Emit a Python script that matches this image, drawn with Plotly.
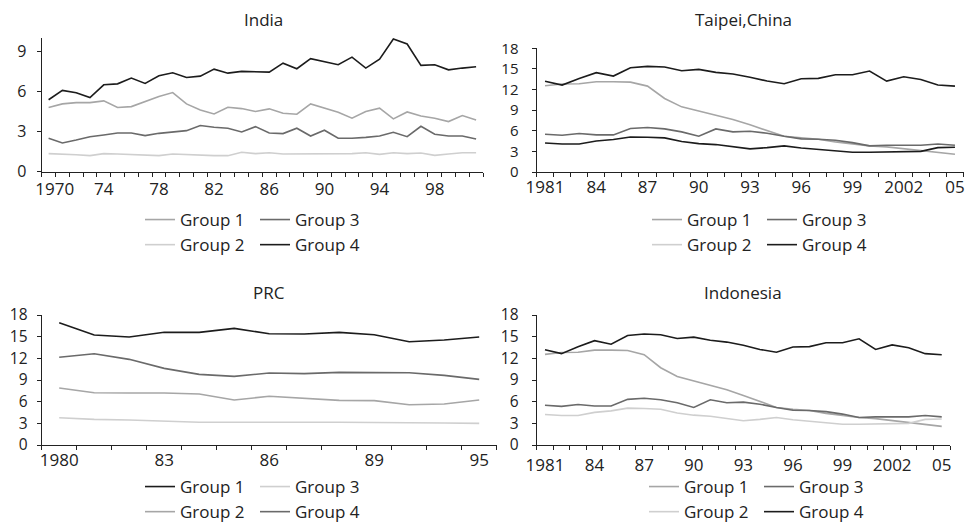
import plotly.graph_objects as go

W, H = 967, 523

# ---------------- data ----------------
india_years = list(range(1970, 2002))
india_g1 = [4.8, 5.07, 5.17, 5.17, 5.3, 4.8, 4.87, 5.25, 5.62, 5.92, 5.07, 4.62, 4.32, 4.82, 4.72, 4.5,
            4.7, 4.37, 4.3, 5.07, 4.75, 4.45, 4.0, 4.5, 4.75, 3.95, 4.47, 4.17, 4.0, 3.75, 4.2, 3.87]
india_g2 = [1.35, 1.32, 1.27, 1.2, 1.35, 1.32, 1.27, 1.2, 1.2, 1.32, 1.27, 1.25, 1.2, 1.2, 1.45, 1.35,
            1.42, 1.32, 1.32, 1.3, 1.35, 1.35, 1.35, 1.42, 1.3, 1.42, 1.35, 1.4, 1.22, 1.32, 1.42, 1.42]
india_g3 = [2.5, 2.15, 2.37, 2.62, 2.75, 2.9, 2.9, 2.7, 2.87, 2.97, 3.07, 3.45, 3.32, 3.25, 2.97, 3.37,
            2.9, 2.85, 3.25, 2.67, 3.1, 2.5, 2.5, 2.57, 2.67, 2.95, 2.62, 3.4, 2.8, 2.67, 2.67, 2.45]
india_g4 = [5.38, 6.08, 5.9, 5.55, 6.5, 6.57, 7.0, 6.6, 7.17, 7.4, 7.05, 7.15, 7.67, 7.37, 7.5, 7.47,
            7.45, 8.12, 7.7, 8.45, 8.2, 8.0, 8.57, 7.75, 8.42, 9.92, 9.55, 7.95, 8.0, 7.62, 7.75, 7.85]
india_ticks = [1970, 1974, 1978, 1982, 1986, 1990, 1994, 1998]
india_ticktext = ["1970", "74", "78", "82", "86", "90", "94", "98"]

taipei_years = list(range(1981, 2006))
taipei_g1 = [12.55, 12.8, 12.84, 13.13, 13.13, 13.08, 12.5, 10.7, 9.48, 8.85, 8.27, 7.64, 6.86,
             5.98, 5.2, 4.96, 4.77, 4.38, 4.04, 3.8, 3.65, 3.36, 3.11, 2.87, 2.58]
taipei_g2 = [4.23, 4.08, 4.08, 4.52, 4.72, 5.1, 5.06, 4.96, 4.43, 4.13, 3.99, 3.7, 3.36,
             3.55, 3.8, 3.5, 3.3, 3.0, 2.87, 2.87, 2.92, 2.97, 3.0, 3.55, 3.6]
taipei_g3 = [5.5, 5.35, 5.6, 5.4, 5.4, 6.32, 6.47, 6.27, 5.84, 5.2, 6.27, 5.84, 5.93,
             5.64, 5.2, 4.82, 4.77, 4.62, 4.28, 3.8, 3.9, 3.94, 3.9, 4.08, 3.9]
taipei_g4 = [13.2, 12.65, 13.6, 14.45, 13.96, 15.17, 15.37, 15.27, 14.74, 14.93, 14.5, 14.25, 13.8,
             13.23, 12.84, 13.57, 13.62, 14.15, 14.15, 14.7, 13.23, 13.86, 13.47, 12.65, 12.5]
taipei_ticks = [1981, 1984, 1987, 1990, 1993, 1996, 1999, 2002, 2005]
taipei_ticktext = ["1981", "84", "87", "90", "93", "96", "99", "2002", "05"]

prc_years = [1980, 1981, 1982, 1983, 1984, 1985, 1986, 1987, 1988, 1989, 1990, 1992, 1995]
prc_g1 = [16.94, 15.23, 14.95, 15.6, 15.6, 16.15, 15.41, 15.37, 15.6, 15.27, 14.3, 14.54, 14.95]
prc_g2 = [7.89, 7.24, 7.2, 7.2, 7.06, 6.23, 6.74, 6.46, 6.18, 6.14, 5.58, 5.68, 6.23]
prc_g3 = [3.78, 3.55, 3.46, 3.32, 3.14, 3.14, 3.18, 3.14, 3.14, 3.14, 3.05, 3.05, 3.0]
prc_g4 = [12.14, 12.64, 11.86, 10.61, 9.78, 9.5, 9.97, 9.88, 10.06, 10.06, 10.01, 9.64, 9.09]
prc_ticks = [0, 3, 6, 9, 12]
prc_ticktext = ["1980", "83", "86", "89", "95"]

# Indonesia shares the Taipei,China series
indo_years = taipei_years
indo_g1, indo_g2, indo_g3, indo_g4 = taipei_g1, taipei_g2, taipei_g3, taipei_g4

# ---------------- style ----------------
BLACK = "#1c1c1c"
DARK = "#6a6a6a"
LIGHT = "#a6a6a6"
PALE = "#cfcfcf"
FONT = "Open Sans"
TXT = "#222222"
LW = 1.6
XTICK_FS = 17
LEG_FS = 17
TITLE_FS = 17
FIRST_LABEL_NUDGE = 0.45   # keeps the "1970" label clear of the y-axis "0"


def px_x(p):
    return p / W


def px_y(p):
    return 1 - p / H


fig = go.Figure()


def add_line(x, y, color, xa, ya, name, legend, group, showlegend=True):
    fig.add_trace(go.Scatter(
        x=x, y=y, mode="lines", name=name,
        line=dict(color=color, width=LW),
        xaxis=xa, yaxis=ya, legend=legend, legendgroup=group,
        showlegend=showlegend, hoverinfo="x+y+name"))


def add_key(color, name, legend, group):
    # legend-only key entry
    fig.add_trace(go.Scatter(
        x=[None], y=[None], mode="lines", name=name,
        line=dict(color=color, width=LW),
        xaxis="x", yaxis="y", legend=legend, legendgroup=group, hoverinfo="skip"))


# India
add_line(india_years, india_g1, LIGHT, "x", "y", "Group 1", "legend", "in_a")
add_line(india_years, india_g2, PALE, "x", "y", "Group 2", "legend", "in_a")
add_line(india_years, india_g3, DARK, "x", "y", "Group 3", "legend", "in_b")
add_line(india_years, india_g4, BLACK, "x", "y", "Group 4", "legend", "in_b")

# Taipei,China
add_line(taipei_years, taipei_g1, LIGHT, "x2", "y2", "Group 1", "legend2", "tw_a")
add_line(taipei_years, taipei_g2, BLACK, "x2", "y2", "Group 2", "legend2", "tw_a", showlegend=False)
add_key(PALE, "Group 2", "legend2", "tw_a")
add_line(taipei_years, taipei_g3, DARK, "x2", "y2", "Group 3", "legend2", "tw_b")
add_line(taipei_years, taipei_g4, BLACK, "x2", "y2", "Group 4", "legend2", "tw_b")

# PRC
prc_idx = list(range(len(prc_years)))
add_line(prc_idx, prc_g1, BLACK, "x3", "y3", "Group 1", "legend3", "cn_a")
add_line(prc_idx, prc_g2, LIGHT, "x3", "y3", "Group 2", "legend3", "cn_a")
add_line(prc_idx, prc_g3, PALE, "x3", "y3", "Group 3", "legend3", "cn_b")
add_line(prc_idx, prc_g4, DARK, "x3", "y3", "Group 4", "legend3", "cn_b")

# Indonesia
add_line(indo_years, indo_g1, LIGHT, "x4", "y4", "Group 1", "legend4", "id_a")
add_line(indo_years, indo_g2, PALE, "x4", "y4", "Group 2", "legend4", "id_a")
add_line(indo_years, indo_g3, DARK, "x4", "y4", "Group 3", "legend4", "id_b")
add_line(indo_years, indo_g4, BLACK, "x4", "y4", "Group 4", "legend4", "id_b")


def xaxis(domain_px, rng, tickvals, ticktext, anchor, standoff):
    return dict(
        domain=[px_x(domain_px[0]), px_x(domain_px[1])], range=rng, anchor=anchor,
        tickmode="array", tickvals=tickvals, ticktext=ticktext, ticks="",
        minor=dict(tickmode="linear", tick0=rng[0], dtick=1, ticks="outside",
                   ticklen=4, tickwidth=1, tickcolor=TXT, showgrid=False),
        showline=True, linecolor=TXT, linewidth=1, showgrid=False, zeroline=False,
        ticklabelstandoff=standoff,
        tickfont=dict(family=FONT, size=XTICK_FS, color=TXT), fixedrange=True)


def yaxis(domain_px, rng, anchor, standoff, fs):
    return dict(
        domain=[px_y(domain_px[1]), px_y(domain_px[0])], range=rng, anchor=anchor,
        tickmode="linear", tick0=0, dtick=3, ticks="outside", ticklen=4, tickwidth=1,
        tickcolor=TXT, showline=True, linecolor=TXT, linewidth=1, showgrid=False,
        zeroline=False, ticklabelstandoff=standoff,
        tickfont=dict(family=FONT, size=fs, color=TXT), fixedrange=True)


india_tickpos = [india_ticks[0] + FIRST_LABEL_NUDGE] + india_ticks[1:]

layout = dict(
    width=W, height=H, margin=dict(l=0, r=0, t=0, b=0, autoexpand=False),
    paper_bgcolor="white", plot_bgcolor="white",
    font=dict(family=FONT, size=16, color=TXT),
    xaxis=xaxis((41.7, 483), [1969.5, 2001.5], india_tickpos, india_ticktext, "y", 2),
    yaxis=yaxis((38, 171.7), [0, 10], "x", 7, 16),
    xaxis2=xaxis((536.5, 963.5), [1980.5, 2005.5], taipei_ticks, taipei_ticktext, "y2", 0),
    yaxis2=yaxis((48.3, 172), [0, 18], "x2", 10, 15),
    xaxis3=xaxis((41.7, 496.7), [-0.5, len(prc_years) - 0.5], prc_ticks, prc_ticktext, "y3", 0),
    yaxis3=yaxis((315, 445), [0, 18], "x3", 6, 15.5),
    xaxis4=xaxis((536.7, 950), [1980.5, 2005.5], taipei_ticks, taipei_ticktext, "y4", 5),
    yaxis4=yaxis((315, 445), [0, 18], "x4", 10, 15.5),
    showlegend=True,
)

# panel titles
titles = [("India", 263, 20), ("Taipei,China", 743, 20), ("PRC", 269, 292), ("Indonesia", 743, 292)]
layout["annotations"] = [
    dict(text=t, x=px_x(x), y=px_y(y), xref="paper", yref="paper", showarrow=False,
         xanchor="center", yanchor="middle", font=dict(family=FONT, size=TITLE_FS, color=TXT))
    for t, x, y in titles
]

# two-column keys under each panel
legend_pos = {
    "legend": (140, 202), "legend2": (647, 202),
    "legend3": (140, 469), "legend4": (644, 469),
}
for key, (lx, ly) in legend_pos.items():
    layout[key] = dict(
        x=px_x(lx), y=px_y(ly), xanchor="left", yanchor="top", orientation="h",
        xref="paper", yref="paper", bgcolor="rgba(0,0,0,0)", borderwidth=0,
        entrywidth=70, entrywidthmode="pixels", traceorder="grouped", tracegroupgap=5,
        font=dict(family=FONT, size=LEG_FS, color=TXT), itemclick=False, itemdoubleclick=False)

fig.update_layout(**layout)
fig.write_html("out.html")
